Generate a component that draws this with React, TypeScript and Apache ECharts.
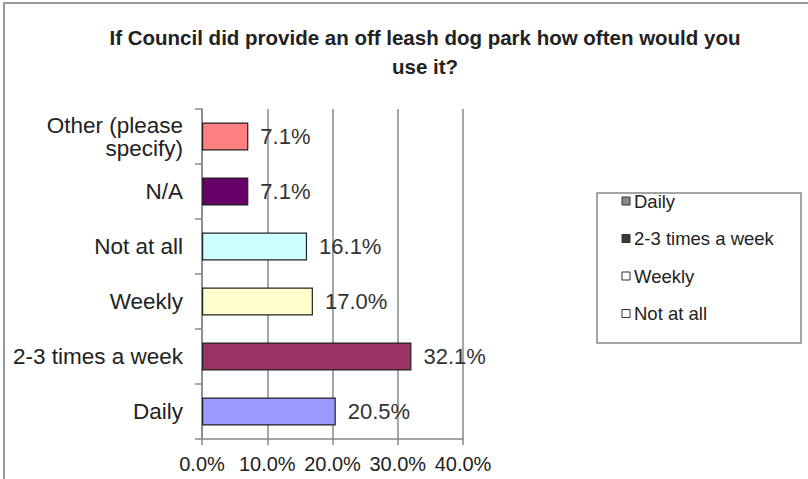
import React, { useEffect, useRef } from "react";
import * as echarts from "echarts";

const categories = ["Daily", "2-3 times a week", "Weekly", "Not at all", "N/A", "Other (please\nspecify)"];
const values = [20.5, 32.1, 17.0, 16.1, 7.1, 7.1];
const barColors = ["#9999FF", "#993366", "#FFFFCC", "#CCFFFF", "#660066", "#FF8080"];
const xTicks = [0, 10, 20, 30, 40];
const legendNames = ["Daily", "2-3 times a week", "Weekly", "Not at all"];
const legendIconColors = ["#8a8a8a", "#3a3a3a", "#ffffff", "#ffffff"];
const titleText = "If Council did provide an off leash dog park how often would you\nuse it?";

const FONT = "'Liberation Sans', Arial, Helvetica, sans-serif";

export default function App() {
  const ref = useRef<HTMLDivElement>(null);
  useEffect(() => {
    if (!ref.current) return;
    const chart = echarts.init(ref.current, null, { renderer: "svg" });
    const legendTop = 201;
    const legendStep = 37.5;
    const legendGraphics: any[] = [];
    legendNames.forEach((name, i) => {
      const cy = legendTop + i * legendStep;
      legendGraphics.push({
        type: "rect",
        shape: { x: 622, y: cy - 4, width: 8, height: 8 },
        style: { fill: legendIconColors[i], stroke: "#333", lineWidth: 1 },
        z: 20,
      });
      legendGraphics.push({
        type: "text",
        x: 634,
        y: cy,
        style: {
          text: name,
          font: `18.5px ${FONT}`,
          fill: "#222",
          textVerticalAlign: "middle",
          verticalAlign: "middle",
        },
        z: 20,
      });
    });
    chart.setOption({
      animation: false,
      backgroundColor: "#ffffff",
      title: {
        text: titleText,
        left: 425,
        top: 23,
        textAlign: "center",
        padding: 0,
        textStyle: {
          fontFamily: FONT,
          fontSize: 20.5,
          fontWeight: "bold",
          color: "#222",
          lineHeight: 29,
        },
      },
      grid: { left: 202, right: 345, top: 109, bottom: 40, containLabel: false },
      xAxis: {
        type: "value",
        min: xTicks[0],
        max: xTicks[xTicks.length - 1],
        interval: xTicks[1] - xTicks[0],
        axisLine: { show: true, lineStyle: { color: "#888", width: 1.5 } },
        axisTick: { show: true, length: 6, lineStyle: { color: "#888", width: 1.5 } },
        splitLine: { show: true, lineStyle: { color: "#888", width: 1.5 } },
        axisLabel: {
          formatter: (v: number) => v.toFixed(1) + "%",
          fontFamily: FONT,
          fontSize: 20,
          color: "#222",
          margin: 15,
        },
      },
      yAxis: {
        type: "category",
        data: categories,
        axisLine: { show: true, lineStyle: { color: "#888", width: 1.5 } },
        axisTick: { show: true, length: 7, lineStyle: { color: "#888", width: 1.5 } },
        axisLabel: {
          fontFamily: FONT,
          fontSize: 22.5,
          color: "#222",
          margin: 19,
          lineHeight: 23,
        },
      },
      series: [
        {
          type: "bar",
          data: values.map((v, i) => ({ value: v, itemStyle: { color: barColors[i] } })),
          barCategoryGap: "49%",
          itemStyle: { borderColor: "#222", borderWidth: 1.2 },
          label: {
            show: true,
            position: "right",
            distance: 12,
            formatter: (p: any) => p.value.toFixed(1) + "%",
            fontFamily: FONT,
            fontSize: 22,
            color: "#333",
          },
        },
      ],
      graphic: [
        {
          type: "rect",
          shape: { x: 4, y: 3, width: 900, height: 600 },
          style: { fill: "none", stroke: "#999", lineWidth: 2 },
          z: 10,
        },
        {
          type: "rect",
          shape: { x: 597, y: 193, width: 204, height: 150 },
          style: { fill: "#fff", stroke: "#888", lineWidth: 1.5 },
          z: 15,
        },
        ...legendGraphics,
      ],
    });
    return () => chart.dispose();
  }, []);
  return <div ref={ref} style={{ width: 808, height: 479, position: "absolute", left: 0, top: 0 }} />;
}
